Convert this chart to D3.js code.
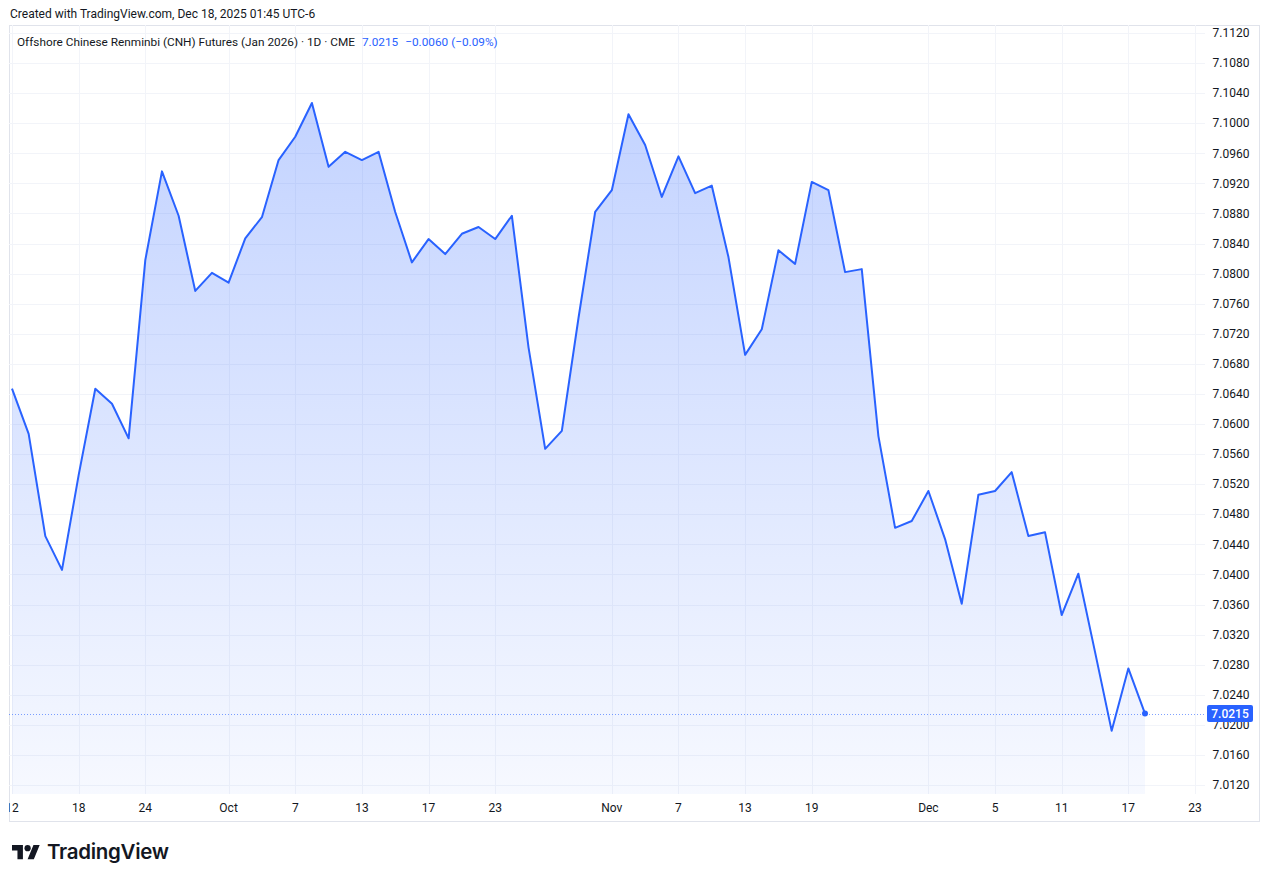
<!DOCTYPE html>
<html><head><meta charset="utf-8">
<script src="https://cdn.jsdelivr.net/npm/d3@7"></script>
<style>html,body{margin:0;padding:0;background:#fff;} svg{display:block;}</style>
</head><body><svg id="chart" width="1274" height="886"></svg>
<script>
// ---- data ----
const dates = [
 "2025-09-12","2025-09-15","2025-09-16","2025-09-17","2025-09-18","2025-09-19","2025-09-22","2025-09-23","2025-09-24","2025-09-25","2025-09-26","2025-09-29","2025-09-30",
 "2025-10-01","2025-10-02","2025-10-03","2025-10-06","2025-10-07","2025-10-08","2025-10-09","2025-10-10","2025-10-13","2025-10-14","2025-10-15","2025-10-16","2025-10-17","2025-10-20","2025-10-21","2025-10-22","2025-10-23","2025-10-24","2025-10-27","2025-10-28","2025-10-29","2025-10-30","2025-10-31",
 "2025-11-03","2025-11-04","2025-11-05","2025-11-06","2025-11-07","2025-11-10","2025-11-11","2025-11-12","2025-11-13","2025-11-14","2025-11-17","2025-11-18","2025-11-19","2025-11-20","2025-11-21","2025-11-24","2025-11-25","2025-11-26","2025-11-28",
 "2025-12-01","2025-12-02","2025-12-03","2025-12-04","2025-12-05","2025-12-08","2025-12-09","2025-12-10","2025-12-11","2025-12-12","2025-12-15","2025-12-16","2025-12-17","2025-12-18"
];
const closes = [
 7.0647,7.0587,7.0451,7.0406,7.0532,7.0647,7.0627,7.0581,7.0818,7.0936,7.0877,7.0777,7.0801,
 7.0788,7.0847,7.0875,7.0951,7.0982,7.1027,7.0942,7.0962,7.0951,7.0962,7.0882,7.0815,7.0846,7.0826,7.0853,7.0862,7.0846,7.0877,7.0702,7.0567,7.0591,7.0741,7.0882,
 7.0911,7.1012,7.0971,7.0902,7.0956,7.0907,7.0917,7.0822,7.0692,7.0726,7.0831,7.0813,7.0922,7.0911,7.0802,7.0806,7.0584,7.0462,7.0471,
 7.0511,7.0447,7.0361,7.0506,7.0511,7.0536,7.0451,7.0456,7.0346,7.0401,7.0297,7.0192,7.0275,7.0215
];
const xTickDates  = ["2025-09-12","2025-09-18","2025-09-24","2025-10-01","2025-10-07","2025-10-13","2025-10-17","2025-10-23","2025-11-03","2025-11-07","2025-11-13","2025-11-19","2025-12-01","2025-12-05","2025-12-11","2025-12-17","2025-12-23"];
const xTickLabels = ["12","18","24","Oct","7","13","17","23","Nov","7","13","19","Dec","5","11","17","23"];
const yTicks = [7.0120,7.0160,7.0200,7.0240,7.0280,7.0320,7.0360,7.0400,7.0440,7.0480,7.0520,7.0560,7.0600,7.0640,7.0680,7.0720,7.0760,7.0800,7.0840,7.0880,7.0920,7.0960,7.1000,7.1040,7.1080,7.1120];
const headerText = "Created with TradingView.com, Dec 18, 2025 01:45 UTC-6";
const titleText = "Offshore Chinese Renminbi (CNH) Futures (Jan 2026) · 1D · CME";
const lastPrice = 7.0215, change = "−0.0060", changePct = "(−0.09%)";

// ---- layout ----
const FONT = "Roboto, 'Liberation Sans', sans-serif";
const TXT = "#131722", BLUE = "#2962ff", GRID = "#f2f4f9", BORDER = "#e0e3eb";
const pane = {left: 9, top: 25, right: 1205, bottom: 794};
const frame = {left: 9, top: 25, right: 1259, bottom: 821};

// trading-day index of a date (extends past the data by weekdays)
function dayIndex(ds) {
  const i = dates.indexOf(ds);
  if (i >= 0) return i;
  const last = new Date(dates[dates.length-1] + "T00:00:00Z");
  const t = new Date(ds + "T00:00:00Z");
  let n = dates.length - 1;
  for (let d = new Date(last); d < t; ) {
    d.setUTCDate(d.getUTCDate() + 1);
    const wd = d.getUTCDay();
    if (wd !== 0 && wd !== 6) n++;
  }
  return n;
}

const x = d3.scaleLinear().domain([0, dates.length - 1]).range([12, 1145]);
const y = d3.scaleLinear().domain([7.012, 7.112]).range([785, 33]);

const svg = d3.select("#chart");
const defs = svg.append("defs");
const grad = defs.append("linearGradient").attr("id","areaGrad")
  .attr("gradientUnits","userSpaceOnUse").attr("x1",0).attr("x2",0)
  .attr("y1", y(d3.max(closes))).attr("y2", pane.bottom);
grad.append("stop").attr("offset","0%").attr("stop-color",BLUE).attr("stop-opacity",0.28);
grad.append("stop").attr("offset","100%").attr("stop-color",BLUE).attr("stop-opacity",0.04);
defs.append("clipPath").attr("id","paneClip").append("rect")
  .attr("x",pane.left).attr("y",pane.top).attr("width",pane.right-pane.left).attr("height",frame.bottom-pane.top);

// header
svg.append("text").attr("x",10).attr("y",18).attr("font-family",FONT).attr("font-size",12)
  .attr("fill",TXT).text(headerText);

// frame
svg.append("rect").attr("x",frame.left+0.5).attr("y",frame.top+0.5)
  .attr("width",frame.right-frame.left).attr("height",frame.bottom-frame.top)
  .attr("fill","none").attr("stroke",BORDER);

// grid
const g = svg.append("g").attr("clip-path","url(#paneClip)");
g.selectAll("line.hg").data(yTicks).enter().append("line")
  .attr("x1",pane.left).attr("x2",pane.right)
  .attr("y1",d=>Math.round(y(d))+0.5).attr("y2",d=>Math.round(y(d))+0.5)
  .attr("stroke",GRID);
g.selectAll("line.vg").data(xTickDates).enter().append("line")
  .attr("x1",d=>Math.round(x(dayIndex(d)))+0.5).attr("x2",d=>Math.round(x(dayIndex(d)))+0.5)
  .attr("y1",pane.top).attr("y2",pane.bottom).attr("stroke",GRID);

// area + line
const pts = closes.map((v,i)=>[i,v]);
g.append("path").datum(pts)
  .attr("d", d3.area().x(d=>x(d[0])).y0(pane.bottom).y1(d=>y(d[1])))
  .attr("fill","url(#areaGrad)");
g.append("path").datum(pts)
  .attr("d", d3.line().x(d=>x(d[0])).y(d=>y(d[1])))
  .attr("fill","none").attr("stroke",BLUE).attr("stroke-width",2).attr("stroke-linejoin","round");

// last price dotted line + dot
g.append("line").attr("x1",pane.left).attr("x2",pane.right)
  .attr("y1",Math.round(y(lastPrice))+0.5).attr("y2",Math.round(y(lastPrice))+0.5)
  .attr("stroke",BLUE).attr("stroke-dasharray","1,2").attr("stroke-opacity",0.6);
g.append("circle").attr("cx",x(closes.length-1)).attr("cy",y(lastPrice)).attr("r",3).attr("fill",BLUE);

// title legend
const title = svg.append("text").attr("x",17).attr("y",46).attr("font-family",FONT).attr("font-size",11.8);
title.append("tspan").attr("fill",TXT).text(titleText);
title.append("tspan").attr("fill",BLUE).attr("dx",7).text(lastPrice.toFixed(4));
title.append("tspan").attr("fill",BLUE).attr("dx",7).text(change + " " + changePct);

// y axis labels
svg.selectAll("text.yl").data(yTicks).enter().append("text")
  .attr("x",1231).attr("y",d=>y(d)).attr("dy","0.35em").attr("text-anchor","middle")
  .attr("font-family",FONT).attr("font-size",12).attr("fill",TXT)
  .text(d=>d.toFixed(4));

// last price badge
const by = y(lastPrice);
svg.append("rect").attr("x",1207).attr("y",by-8.5).attr("width",46).attr("height",17).attr("rx",2).attr("fill",BLUE);
svg.append("text").attr("x",1230).attr("y",by).attr("dy","0.35em").attr("text-anchor","middle")
  .attr("font-family",FONT).attr("font-size",12).attr("font-weight",500).attr("fill","#fff").text(lastPrice.toFixed(4));

// x axis labels
const xl = svg.append("g").attr("clip-path","url(#paneClip)");
xl.selectAll("text").data(xTickDates).enter().append("text")
  .attr("x",d=>x(dayIndex(d))).attr("y",808).attr("dy","0.35em").attr("text-anchor","middle")
  .attr("font-family",FONT).attr("font-size",12).attr("fill",TXT)
  .text((d,i)=>xTickLabels[i]);

// logo
const logo = svg.append("g").attr("transform","translate(12,842) scale(0.78)");
logo.append("path").attr("d","M14 22H7V11H0V4h14v18zM28 22h-8l7.5-18h8L28 22z").attr("fill",TXT);
logo.append("circle").attr("cx",20).attr("cy",8).attr("r",4).attr("fill",TXT);
svg.append("text").attr("x",47).attr("y",859).attr("font-family","Inter, Roboto, sans-serif")
  .attr("font-size",20.5).attr("font-weight",600).attr("fill",TXT).attr("letter-spacing",-0.3).text("TradingView");
</script>
</body></html>
